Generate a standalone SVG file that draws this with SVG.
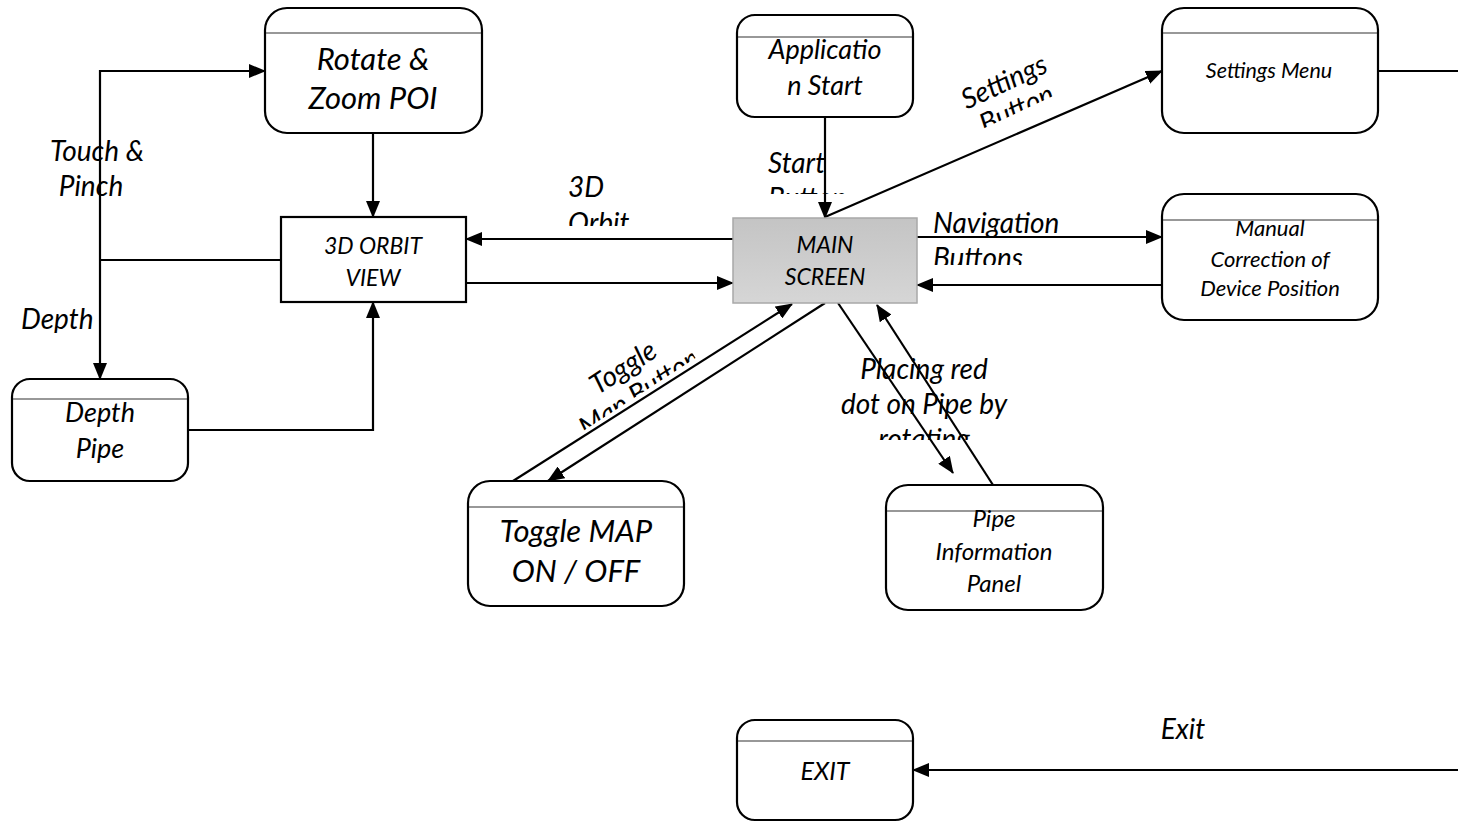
<svg xmlns="http://www.w3.org/2000/svg" width="1458" height="822" viewBox="0 0 1458 822">
<style>
.box{fill:#fff;stroke:#000;stroke-width:2.2}
.hdr{stroke:#333;stroke-width:1.2}
.t{font-family:Lato,"Liberation Sans",sans-serif;font-style:italic;fill:#000;text-anchor:middle}
.l{font-family:Lato,"Liberation Sans",sans-serif;font-style:italic;fill:#000;font-size:28px}
.c{fill:none;stroke:#000;stroke-width:2.2}
.a{marker-end:url(#ah)}
</style>
<defs>
<marker id="ah" markerUnits="userSpaceOnUse" markerWidth="17" markerHeight="14" viewBox="0 0 17 14" refX="16" refY="7" orient="auto">
<path d="M0,0 L17,7 L0,14 Z" fill="#000"/>
</marker>
<linearGradient id="g" x1="0" y1="0" x2="0" y2="1">
<stop offset="0" stop-color="#c4c4c4"/>
<stop offset="1" stop-color="#d6d6d6"/>
</linearGradient>
<clipPath id="cTouch"><rect x="20" y="130" width="160" height="86"/></clipPath>
<clipPath id="cDepth"><rect x="10" y="300" width="110" height="33"/></clipPath>
<clipPath id="c3d"><rect x="560" y="170" width="110" height="56"/></clipPath>
<clipPath id="cStart"><rect x="760" y="145" width="90" height="49"/></clipPath>
<clipPath id="cNav"><rect x="925" y="205" width="160" height="60"/></clipPath>
<clipPath id="cPlace"><rect x="820" y="345" width="210" height="95"/></clipPath>
<clipPath id="cSet"><rect x="930" y="55" width="150" height="60"/></clipPath>
<clipPath id="cTog"><rect x="560" y="340" width="140" height="57"/></clipPath>
</defs>

<g id="connectors">
<path class="c" d="M281,260 H100"/>
<path class="c a" d="M100,260 V71 H265"/>
<path class="c a" d="M100,260 V379"/>
<path class="c a" d="M373,133 V217"/>
<path class="c a" d="M188,430 H373 V302"/>
<path class="c a" d="M733,239 H466"/>
<path class="c a" d="M466,283 H733"/>
<path class="c a" d="M825,117 V218"/>
<path class="c a" d="M825,217 L1162,71"/>
<path class="c a" d="M917,237 H1162"/>
<path class="c a" d="M1162,285 H917"/>
<path class="c" d="M1378,71 H1458"/>
<path class="c a" d="M1458,770 H913"/>
<path class="c a" d="M513,481 L792,304"/>
<path class="c a" d="M825,303 L548,481"/>
<path class="c a" d="M838,303 L953,473"/>
<path class="c a" d="M993,485 L877,305"/>
</g>

<g id="labels">
<g clip-path="url(#cTouch)"><text class="l" text-anchor="middle" x="97" y="161">Touch &amp;</text><text class="l" text-anchor="middle" x="91" y="196">Pinch</text></g>
<g clip-path="url(#cDepth)"><text class="l" x="21" y="329">Depth</text></g>
<g clip-path="url(#c3d)"><text class="l" x="568" y="197">3D</text><text class="l" x="568" y="233">Orbit</text></g>
<g clip-path="url(#cStart)"><text class="l" x="768" y="173">Start</text><text class="l" x="768" y="208">Button</text></g>
<g clip-path="url(#cNav)"><text class="l" x="933" y="233">Navigation</text><text class="l" x="933" y="268">Buttons</text></g>
<g clip-path="url(#cPlace)"><text class="l" text-anchor="middle" x="924" y="379">Placing red</text><text class="l" text-anchor="middle" x="924" y="414">dot on Pipe by</text><text class="l" text-anchor="middle" x="924" y="449">rotating</text></g>
<g transform="rotate(-25 1008 95)"><g clip-path="url(#cSet)"><text class="l" text-anchor="middle" x="1010" y="91">Settings</text><text class="l" text-anchor="middle" x="1010" y="121">Button</text></g></g>
<g transform="rotate(-33 632 385)"><g clip-path="url(#cTog)"><text class="l" text-anchor="middle" x="634" y="375">Toggle</text><text class="l" text-anchor="middle" x="634" y="405">Map Button</text></g></g>
<text class="l" text-anchor="middle" x="1183" y="739">Exit</text>
</g>

<g id="rotate-zoom">
<rect class="box" x="265" y="8" width="217" height="125" rx="22"/>
<line class="hdr" x1="266" y1="33" x2="481" y2="33"/>
<text class="t" font-size="31" x="373" y="70">Rotate &amp;</text>
<text class="t" font-size="31" x="373" y="109">Zoom POI</text>
</g>

<g id="orbit-view">
<rect class="box" x="281" y="217" width="185" height="85"/>
<text class="t" font-size="23" x="373" y="254">3D ORBIT</text>
<text class="t" font-size="23" x="373" y="286">VIEW</text>
</g>

<g id="depth-pipe">
<rect class="box" x="12" y="379" width="176" height="102" rx="18"/>
<line class="hdr" x1="13" y1="399" x2="187" y2="399"/>
<text class="t" font-size="27" x="100" y="422">Depth</text>
<text class="t" font-size="27" x="100" y="458">Pipe</text>
</g>

<g id="app-start">
<rect class="box" x="737" y="15" width="176" height="102" rx="18"/>
<line class="hdr" x1="738" y1="37" x2="912" y2="37"/>
<text class="t" font-size="27" x="825" y="59">Applicatio</text>
<text class="t" font-size="27" x="825" y="95">n Start</text>
</g>

<g id="main-screen">
<rect x="733" y="218" width="184" height="85" fill="url(#g)" stroke="#a8a8a8" stroke-width="1.5"/>
<text class="t" font-size="23" x="825" y="253">MAIN</text>
<text class="t" font-size="23" x="825" y="285">SCREEN</text>
</g>

<g id="settings-menu">
<rect class="box" x="1162" y="8" width="216" height="125" rx="22"/>
<line class="hdr" x1="1163" y1="33" x2="1377" y2="33"/>
<text class="t" font-size="21.5" x="1269" y="78">Settings Menu</text>
</g>

<g id="manual-correction">
<rect class="box" x="1162" y="194" width="216" height="126" rx="22"/>
<line class="hdr" x1="1163" y1="220" x2="1377" y2="220"/>
<text class="t" font-size="22" x="1270" y="236">Manual</text>
<text class="t" font-size="22" x="1270" y="267">Correction of</text>
<text class="t" font-size="22" x="1270" y="296">Device Position</text>
</g>

<g id="toggle-map">
<rect class="box" x="468" y="481" width="216" height="125" rx="22"/>
<line class="hdr" x1="469" y1="507" x2="683" y2="507"/>
<text class="t" font-size="31" x="576" y="542">Toggle MAP</text>
<text class="t" font-size="31" x="576" y="582">ON / OFF</text>
</g>

<g id="pipe-info">
<rect class="box" x="886" y="485" width="217" height="125" rx="22"/>
<line class="hdr" x1="887" y1="511" x2="1102" y2="511"/>
<text class="t" font-size="24" x="994" y="527">Pipe</text>
<text class="t" font-size="24" x="994" y="560">Information</text>
<text class="t" font-size="24" x="994" y="592">Panel</text>
</g>

<g id="exit">
<rect class="box" x="737" y="720" width="176" height="100" rx="18"/>
<line class="hdr" x1="738" y1="741" x2="912" y2="741"/>
<text class="t" font-size="25" x="825" y="780">EXIT</text>
</g>
</svg>
